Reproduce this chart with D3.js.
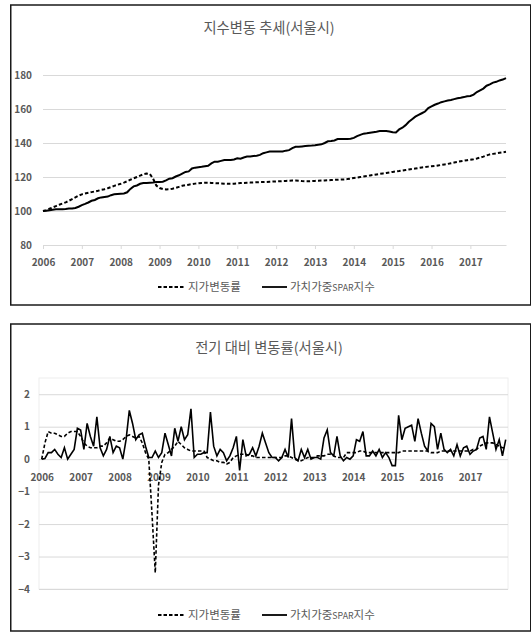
<!DOCTYPE html>
<html><head><meta charset="utf-8">
<script src="https://cdn.jsdelivr.net/npm/d3@7"></script>
<style>
html,body{margin:0;padding:0;background:#fff;}
text{font-family:"Noto Sans CJK KR","Noto Sans",sans-serif;}
</style></head>
<body><svg id="c" width="531" height="632"></svg>
<script>
// ---- data ----
const years = ["2006","2007","2008","2009","2010","2011","2012","2013","2014","2015","2016","2017"];
const seriesNames = ["지가변동률", "가치가중SPAR지수"];
const titles = ["지수변동 추세(서울시)", "전기 대비 변동률(서울시)"];
const topTicks = [80,100,120,140,160,180];
const botTicks = [-4,-3,-2,-1,0,1,2];

// Top chart: index level (monthly, Jan 2006 - Dec 2017)
const landIndex = [
100,100.5,101.3,102.1,102.9,103.7,104.4,105.1,106,107,108,109,
109.8,110.3,110.7,111.1,111.5,111.9,112.4,112.8,113.4,114.1,114.8,115.4,
116,116.7,117.5,118.4,119.2,120,120.8,121.6,122,121.8,119,115,
113.5,112.9,112.7,112.8,113.1,113.6,114.2,114.8,115.2,115.5,115.8,116.1,
116.3,116.5,116.6,116.6,116.5,116.4,116.3,116.2,116.1,116,116,116.1,
116.2,116.4,116.5,116.6,116.7,116.8,116.9,117,117,117.1,117.2,117.3,
117.4,117.5,117.6,117.7,117.8,117.9,117.9,117.8,117.6,117.5,117.5,117.6,
117.7,117.8,117.9,118,118.1,118.2,118.3,118.4,118.5,118.6,118.8,119.1,
119.4,119.7,120,120.3,120.6,120.9,121.2,121.5,121.8,122.1,122.4,122.7,
123,123.3,123.5,123.8,124.1,124.4,124.7,125,125.3,125.6,125.8,126.1,
126.3,126.5,126.8,127.1,127.4,127.7,128.1,128.5,128.9,129.3,129.6,129.9,
130.2,130.5,130.9,131.4,132,132.7,133.3,133.6,133.9,134.2,134.5,134.8];
const sparIndex = [
100,100.2,100.5,100.8,101,101,101,101.2,101.5,101.5,101.8,102.5,
103.5,104.2,105,106,106.5,107.5,108,108.3,108.5,109.3,109.8,110,
110.2,110.3,111,113,114.5,115,116,116.5,116.5,116.6,116.7,117,
117,117.2,118,119,119.3,120.3,121,122,123,123.3,125,125.5,
125.8,126,126.3,126.6,128,129,129,129.5,130,130,130,130.3,
131,130.8,131.5,132,132,132.3,132.5,133,134,134.5,135,135,
135,135,135,135.5,135.8,137,137.8,137.8,138,138.2,138.4,138.5,
138.7,139,139.2,140,141,141.2,141.5,142.3,142.4,142.3,142.3,142.5,
143,144,144.8,145.5,145.7,146,146.3,146.6,147,147,147,146.8,
146.3,146.2,148,149,150.5,152.5,154,155.5,156.5,157.5,158.5,160.5,
161.5,162.5,163.2,164,164.5,165,165.3,165.8,166.3,166.6,167,167.5,
167.7,168.5,170,171,172,173.7,174.5,175.5,176,176.8,177.3,178.2];

// Bottom chart: month-over-month change (%)
const landChange = [
0,0.5,0.85,0.8,0.8,0.75,0.7,0.7,0.8,0.85,0.85,0.85,
0.7,0.5,0.4,0.35,0.35,0.35,0.4,0.4,0.5,0.65,0.6,0.55,
0.55,0.6,0.7,0.75,0.7,0.65,0.7,0.5,0.2,0.0,-1.7,-3.5,
-0.8,-0.1,0.15,0.2,0.3,0.4,0.55,0.45,0.35,0.3,0.25,0.25,
0.25,0.25,0.25,0.05,0.0,-0.05,-0.05,-0.1,-0.1,-0.15,-0.1,0.05,
0.1,0.15,0.15,0.15,0.1,0.1,0.05,0.05,0.05,0.05,0.05,0.05,
0.05,0.05,0.05,0.1,0.1,0.05,0.0,-0.05,-0.05,0.0,0.05,0.05,
0.05,0.1,0.1,0.1,0.15,0.15,0.1,0.05,0.05,0.05,0.2,0.2,
0.2,0.2,0.25,0.25,0.2,0.2,0.2,0.2,0.2,0.2,0.2,0.2,
0.2,0.2,0.2,0.25,0.25,0.25,0.25,0.25,0.25,0.25,0.25,0.25,
0.2,0.2,0.2,0.25,0.25,0.25,0.25,0.25,0.25,0.25,0.25,0.25,
0.25,0.3,0.3,0.4,0.45,0.5,0.5,0.5,0.45,0.4,0.35,0.35];
const sparChange = [
0,0.02,0.2,0.2,0.3,0.15,0.05,0.35,0.0,0.15,0.3,0.95,
0.9,0.3,1.1,0.7,0.4,1.3,0.35,0.1,0.3,0.7,0.2,0.4,
0.35,0.0,0.6,1.5,1.1,0.6,0.75,0.8,0.4,0.05,0.05,0.25,
0.05,0.2,0.8,0.45,0.1,0.95,0.55,1.0,0.6,0.75,1.55,0.05,
0.15,0.15,0.2,0.2,1.45,0.4,0.1,0.3,0.2,-0.05,0.1,0.35,
0.7,-0.35,0.6,0.1,0.15,0.35,0.1,0.4,0.8,0.5,0.2,0.05,
0.05,-0.05,0.05,0.3,0.05,1.25,0.05,-0.05,0.3,0.05,0.3,0.0,
0.05,0.05,0.0,0.65,0.9,0.2,0.1,0.7,0.1,-0.05,0.05,0.0,
0.1,0.6,0.55,0.85,0.1,0.1,0.25,0.1,0.3,0.05,0.2,0.05,
-0.2,-0.2,1.35,0.6,0.95,1.0,1.05,0.55,1.25,0.8,0.4,0.25,
1.1,1.0,0.3,0.8,0.3,0.2,0.3,0.1,0.45,0.1,0.35,0.4,
0.15,0.25,0.3,0.65,0.7,0.3,1.3,0.8,0.3,0.6,0.1,0.6];

// ---- drawing ----
const svg = d3.select("#c");
const grey = "#595959", grid = "#d9d9d9";

function frame(y0, y1){
  svg.append("rect").attr("x",10.75).attr("y",y0).attr("width",520).attr("height",y1-y0)
    .attr("fill","#fff").attr("stroke","#1a1a1a").attr("stroke-width",1.5);
}
function title(txt, y){
  svg.append("text").attr("x",269).attr("y",y).attr("text-anchor","middle")
    .attr("fill",grey).attr("font-size",14.3).text(txt);
}
function legend(y){
  const g = svg.append("g");
  g.append("line").attr("x1",158).attr("x2",185).attr("y1",y).attr("y2",y)
    .attr("stroke","#000").attr("stroke-width",1.8).attr("stroke-dasharray","3.5,2");
  g.append("text").attr("x",188).attr("y",y+4.3).attr("fill",grey).attr("font-size",11.5).text(seriesNames[0]);
  g.append("line").attr("x1",262).attr("x2",287).attr("y1",y).attr("y2",y)
    .attr("stroke","#000").attr("stroke-width",1.8);
  const t = g.append("text").attr("x",290).attr("y",y+4.3).attr("fill",grey).attr("font-size",11.5);
  const m = seriesNames[1].match(/^(.*?)(SPAR)(.*)$/);
  t.append("tspan").text(m[1]);
  t.append("tspan").attr("font-size",8.8).text(m[2]);
  t.append("tspan").text(m[3]);
}
function styleAxis(g){
  g.selectAll("text").attr("fill",grey).attr("font-size",10).attr("font-weight","bold")
    .attr("font-family","'Noto Sans CJK KR',sans-serif");
}

// ===== Top chart =====
frame(5, 305);
title(titles[0], 33);
{
  const x = d3.scaleLinear().domain([0,143]).range([43,506]);
  const y = d3.scaleLinear().domain([80,180]).range([245,75]);
  const gy = svg.append("g").attr("transform","translate(43,0)")
    .call(d3.axisLeft(y).tickValues(topTicks).tickFormat(d3.format("d")).tickSize(-(506-43)).tickPadding(11));
  gy.select(".domain").remove();
  gy.selectAll("line").attr("stroke",grid).attr("stroke-width",1);
  gy.selectAll(".tick").filter(d=>d===80).select("line").remove();
  styleAxis(gy);
  const gx = svg.append("g").attr("transform","translate(0,245)")
    .call(d3.axisBottom(x).tickValues(years.map((d,i)=>i*12)).tickFormat((d,i)=>years[i]).tickSize(4).tickPadding(9.5).tickSizeOuter(0));
  gx.select(".domain").attr("stroke",grid);
  gx.selectAll("line").attr("stroke",grid);
  styleAxis(gx);
  const line = d3.line().x((d,i)=>x(i)).y(d=>y(d));
  svg.append("path").datum(landIndex).attr("d",line).attr("fill","none")
    .attr("stroke","#000").attr("stroke-width",2).attr("stroke-dasharray","3.5,2.2");
  svg.append("path").datum(sparIndex).attr("d",line).attr("fill","none")
    .attr("stroke","#000").attr("stroke-width",2);
  legend(287);
}

// ===== Bottom chart =====
frame(324, 631);
title(titles[1], 353);
{
  const x = d3.scaleLinear().domain([0,143]).range([41.7,505.7]);
  const y = d3.scaleLinear().domain([-4,2.5]).range([589,378]);
  svg.append("rect").attr("x",39).attr("y",y(2.5)).attr("width",508-39).attr("height",y(-4)-y(2.5))
    .attr("fill","none").attr("stroke","#eeeeee");
  const gy = svg.append("g").attr("transform","translate(39,0)")
    .call(d3.axisLeft(y).tickValues(botTicks).tickFormat(d3.format("d")).tickSize(-(508-39)).tickPadding(9));
  gy.select(".domain").remove();
  gy.selectAll("line").attr("stroke",grid).attr("stroke-width",1);
  styleAxis(gy);
  const gx = svg.append("g").attr("transform","translate(0,"+y(0)+")")
    .call(d3.axisBottom(x).tickValues(years.map((d,i)=>i*12)).tickFormat((d,i)=>years[i]).tickSize(0).tickPadding(14.5));
  gx.select(".domain").remove();
  styleAxis(gx);
  const line = d3.line().x((d,i)=>x(i)).y(d=>y(d));
  svg.append("path").datum(landChange).attr("d",line).attr("fill","none")
    .attr("stroke","#000").attr("stroke-width",1.6).attr("stroke-dasharray","3.5,2.2");
  svg.append("path").datum(sparChange).attr("d",line).attr("fill","none")
    .attr("stroke","#000").attr("stroke-width",1.6);
  legend(615);
}
</script></body></html>
